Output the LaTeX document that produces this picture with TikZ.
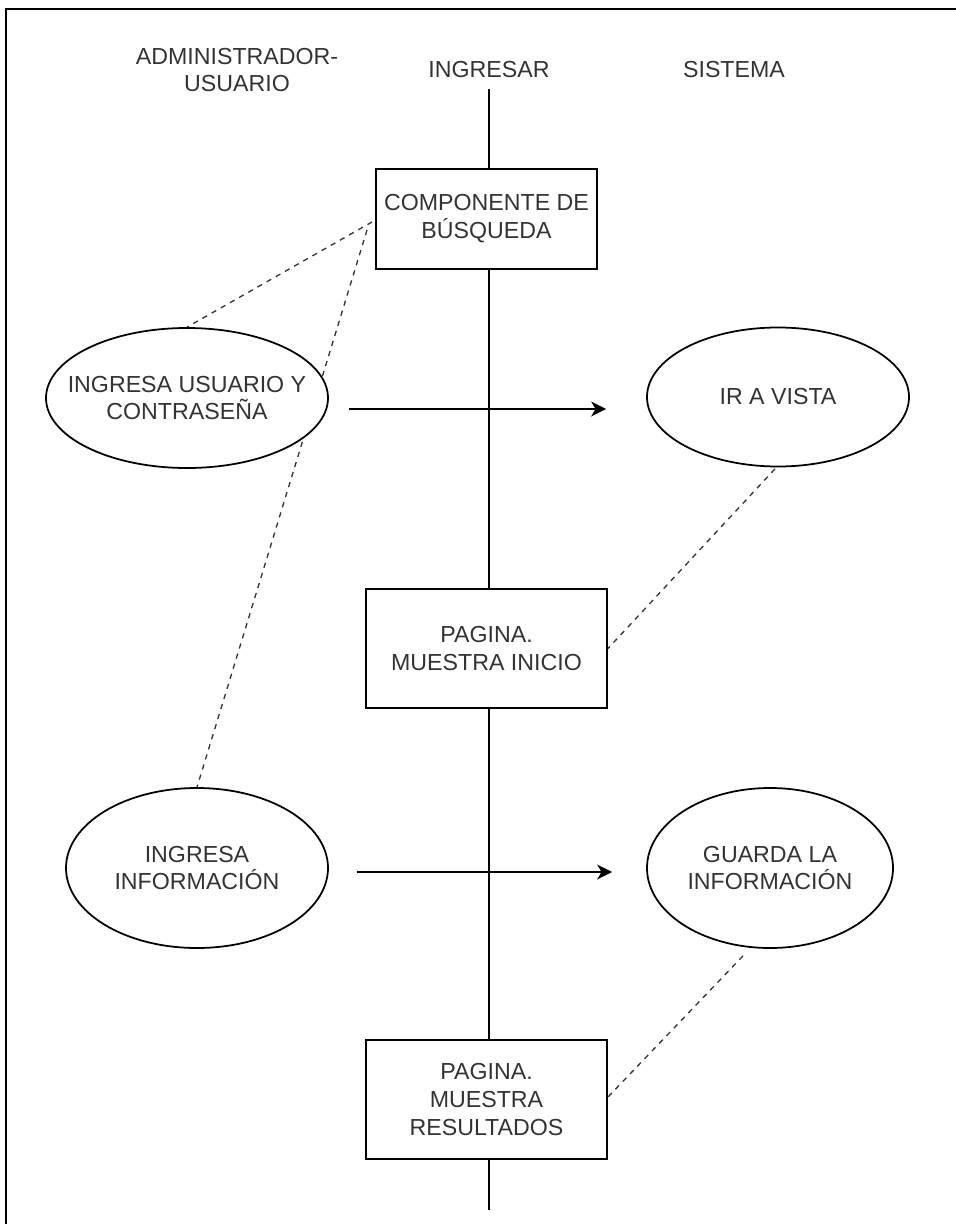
\documentclass[tikz,border=0pt]{standalone}
\usepackage{fontspec}
\setmainfont{Liberation Sans}
\usetikzlibrary{arrows.meta}
\usetikzlibrary{shapes.geometric}
\usetikzlibrary{backgrounds}

\begin{document}
\begin{tikzpicture}[
  texto/.style={text=black!80, align=center, font=\fontsize{13.2}{15.9}\selectfont},
  caja/.style={texto, draw, line width=1.1pt, fill=white, inner sep=0pt,
    minimum width=4.82cm, minimum height=2.38cm},
  caso/.style={draw, ellipse, line width=1pt, fill=white, inner sep=0pt},
  flecha/.style={line width=1.1pt, -{Stealth[length=8.5pt,width=8.5pt,inset=2.5pt]}},
  enlace/.style={black!80, line width=0.75pt, dash pattern=on 3pt off 3pt}
]
\useasboundingbox (0,0) rectangle (19.1,-24.48);
% marco
\draw[line width=1.2pt] (19.3,-0.18) -- (0.12,-0.18) -- (0.12,-24.7);

% columnas
\node[texto] (admin) at (4.74,-1.40) {ADMINISTRADOR-\\USUARIO};
\node[texto] (ingresar) at (9.78,-1.40) {INGRESAR};
\node[texto] (sistema) at (14.68,-1.40) {SISTEMA};
\coordinate (fin) at (9.78,-24.2);

% cajas sobre la linea
\node[caja, minimum width=4.42cm, minimum height=2cm] (busqueda) at (9.73,-4.38)
  {COMPONENTE DE\\BÚSQUEDA};
\node[caja] (inicio) at (9.73,-12.97) {PAGINA.\\MUESTRA INICIO};
\node[caja] (resultados) at (9.73,-21.99) {PAGINA.\\MUESTRA\\RESULTADOS};

% casos de uso
\node[caso, minimum width=5.64cm, minimum height=2.8cm,
  label={[texto]center:{INGRESA USUARIO Y\\CONTRASEÑA}}] (usuario) at (3.74,-7.96) {};
\node[caso, minimum width=5.24cm, minimum height=2.78cm,
  label={[texto]center:{IR A VISTA}}] (vista) at (15.56,-7.94) {};
\node[caso, minimum width=5.24cm, minimum height=3.2cm,
  label={[texto]center:{INGRESA\\INFORMACIÓN}}] (infoin) at (3.94,-17.36) {};
\node[caso, minimum width=4.92cm, minimum height=3.2cm,
  label={[texto]center:{GUARDA LA\\INFORMACIÓN}}] (guarda) at (15.40,-17.36) {};

% flechas
\draw[flecha] ([shift={(0.4,-0.22)}]usuario.east) -- ([shift={(-0.8,-0.24)}]vista.west);
\draw[flecha] ([shift={(0.56,-0.08)}]infoin.east) -- ([shift={(-0.68,-0.08)}]guarda.west);

\begin{scope}[on background layer]
  \draw[line width=1.1pt] ([yshift=-0.1cm]ingresar.south) -- (fin);
  % relaciones punteadas
  \draw[enlace] ([shift={(-0.06,-0.06)}]busqueda.west) -- (usuario.north);
  \draw[enlace] ([shift={(-0.16,-0.22)}]busqueda.west) -- (infoin.north);
  \draw[enlace] ([shift={(-0.06,-0.03)}]vista.south) -- (inicio.east);
  \draw[enlace] ([shift={(-0.54,-0.14)}]guarda.south) -- ([yshift=0.05cm]resultados.east);
\end{scope}
\end{tikzpicture}
\end{document}
